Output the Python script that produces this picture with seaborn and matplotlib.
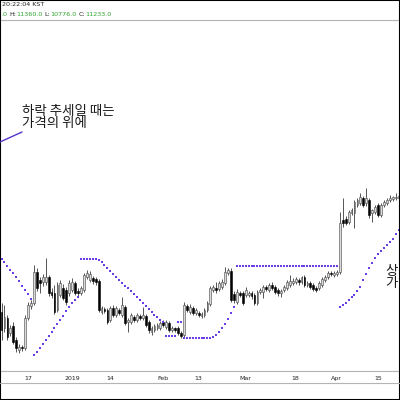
import numpy as np
import pandas as pd
import matplotlib
matplotlib.use("Agg")
import matplotlib.pyplot as plt
import matplotlib.dates as mdates
from matplotlib.lines import Line2D
from matplotlib.patches import Rectangle
import seaborn as sns

# daily candles, Dec 8 2018 .. Apr 22 2019 (price units, no axis shown)
start_date = "2018-12-08"
open_ = [88, 72, 82, 67, 74, 60, 50, 53, 52, 82, 94, 97, 128, 120, 118, 118, 123, 108, 107, 90,
         105, 112, 110, 107, 110, 117, 109, 107, 110, 123, 120, 122, 121, 119, 88, 91, 90, 80, 92, 85,
         90, 85, 93, 78, 78, 83, 80, 84, 82, 84, 78, 68, 70, 72, 72, 78, 73, 77, 70, 72,
         72, 67, 65, 94, 88, 92, 87, 87, 84, 85, 90, 96, 110, 112, 111, 113, 117, 127, 129, 106,
         98, 107, 107, 105, 105, 107, 105, 97, 108, 108, 113, 110, 115, 113, 110, 107, 110, 112, 115, 117,
         118, 120, 118, 123, 115, 117, 115, 112, 112, 115, 120, 123, 127, 125, 126, 128, 180, 181, 178, 187,
         187, 195, 197, 202, 197, 200, 187, 188, 195, 185, 195, 197, 200, 201, 202, 202]
high = [97, 95, 85, 75, 78, 63, 56, 55, 85, 98, 100, 135, 132, 123, 126, 142, 125, 112, 115, 118,
        120, 116, 113, 120, 122, 119, 112, 114, 127, 130, 129, 124, 123, 121, 94, 93, 92, 94, 95, 94,
        92, 103, 95, 82, 87, 85, 87, 86, 93, 86, 80, 74, 76, 77, 79, 80, 80, 79, 74, 73,
        74, 69, 98, 96, 96, 94, 92, 89, 88, 92, 99, 114, 115, 118, 119, 121, 133, 132, 132, 109,
        111, 109, 109, 113, 109, 109, 107, 110, 112, 115, 115, 117, 118, 115, 112, 111, 115, 120, 125, 122,
        123, 122, 124, 125, 119, 119, 117, 114, 119, 123, 125, 129, 129, 129, 130, 188, 202, 184, 190, 192,
        200, 202, 207, 204, 212, 202, 191, 195, 197, 197, 200, 202, 205, 204, 207, 206]
low = [60, 68, 60, 64, 56, 48, 47, 49, 50, 80, 91, 95, 109, 107, 114, 115, 104, 102, 86, 88,
       103, 100, 95, 104, 108, 105, 104, 105, 108, 121, 118, 116, 115, 88, 86, 87, 76, 78, 83, 83,
       85, 83, 75, 68, 76, 78, 78, 80, 80, 73, 67, 65, 68, 70, 70, 73, 71, 68, 68, 68,
       65, 62, 63, 88, 86, 85, 85, 83, 82, 83, 88, 94, 108, 107, 109, 111, 115, 125, 98, 97,
       96, 103, 95, 103, 103, 101, 95, 95, 106, 102, 109, 108, 110, 106, 104, 103, 108, 110, 113, 115,
       116, 115, 116, 113, 113, 111, 109, 108, 110, 113, 118, 121, 124, 123, 124, 126, 173, 175, 176, 185,
       172, 193, 195, 193, 194, 182, 178, 186, 183, 183, 193, 195, 198, 199, 200, 200]
close = [70, 83, 63, 72, 58, 52, 53, 52, 82, 95, 97, 128, 112, 117, 123, 123, 107, 105, 88, 115,
         117, 102, 98, 117, 118, 107, 107, 112, 125, 127, 126, 119, 118, 90, 92, 89, 78, 92, 85, 92,
         87, 95, 77, 80, 85, 80, 85, 82, 85, 75, 70, 72, 74, 75, 77, 75, 78, 70, 72, 70,
         67, 64, 95, 90, 93, 87, 90, 85, 86, 90, 97, 112, 113, 110, 117, 118, 128, 130, 100, 100,
         108, 105, 97, 110, 107, 104, 97, 108, 110, 113, 111, 115, 112, 108, 107, 109, 113, 118, 119, 119,
         121, 118, 123, 115, 117, 113, 111, 110, 117, 121, 123, 127, 126, 127, 128, 177, 177, 177, 188, 190,
         198, 200, 203, 195, 202, 185, 190, 193, 185, 195, 198, 200, 202, 203, 203, 204]

# stop-and-reverse dots, one per day
sar = [141, 138, 134, 130, 127, 123, 119, 114, 110, 106, 101,
       45, 48, 52, 56, 60, 64, 68, 72, 76, 80, 84, 89, 93, 97, 100, 103,
       141, 141, 141, 141, 141, 141,
       140, 138, 135, 132, 129, 126, 123, 120, 117, 114, 112, 109, 106, 103, 100, 97, 94, 91, 88, 85, 83, 80, 78,
       64, 64, 64, 64,
       78, 78,
       62, 62, 62, 62, 62, 62, 62, 62, 62, 62,
       63, 65, 68, 72, 76, 81, 87, 93,
       134, 134, 134, 134, 134, 134, 134, 134, 134, 134, 134, 134, 134, 134, 134, 134, 134, 134,
       134, 134, 134, 134, 134, 134, 134, 134, 134, 134, 134, 134, 134, 134, 134, 134, 134,
       93, 95, 97, 100, 103, 105, 109, 113, 120, 126, 132, 137, 142, 146, 149, 152, 155, 158, 161, 166, 170]

tick_dates = ["2018-12-17", "2019-01-01", "2019-01-14", "2019-02-01", "2019-02-13",
              "2019-03-01", "2019-03-18", "2019-04-01", "2019-04-15"]
tick_labels = ["17", "2019", "14", "Feb", "13", "Mar", "18", "Apr", "15"]

header_parts = [(".0", "g"), ("H:", "k"), ("11360.0", "g"), ("L:", "k"),
                ("10776.0", "g"), ("C:", "k"), ("11233.0", "g")]

SAR_COLOR = "#6a3de8"
GRID_GRAY = "#b4b4b4"
GREEN = "#2fa52f"
DARK = "#222222"

sns.set_theme(style="white")
plt.rcParams["font.family"] = ["DejaVu Sans"]

df = pd.DataFrame({"date": pd.date_range(start_date, periods=len(close)),
                   "open": open_, "high": high, "low": low, "close": close, "sar": sar})
df["x"] = mdates.date2num(df["date"])
up = df["close"] >= df["open"]

fig = plt.figure(figsize=(4, 4), dpi=100)
ax = fig.add_axes([0, 29 / 400, 1, 351 / 400])

# wicks + bodies
ax.vlines(df["x"], df["low"], df["high"], color="#3a3a3a", linewidth=0.6, zorder=2)
body = (df["close"] - df["open"]).abs().clip(lower=0.8)
bottom = df[["open", "close"]].min(axis=1)
ax.bar(df.loc[up, "x"], body[up], bottom=bottom[up], width=0.62,
       color="#dadada", edgecolor="#444444", linewidth=0.4, zorder=3)
ax.bar(df.loc[~up, "x"], body[~up], bottom=bottom[~up], width=0.62,
       color="black", edgecolor="black", linewidth=0.4, zorder=3)

# SAR dots: markers only, no connecting line
sns.lineplot(data=df, x="x", y="sar", ax=ax, linestyle="", marker="s",
             markersize=1.7, markeredgewidth=0, color=SAR_COLOR, zorder=4)

ax.set_xlim(df["x"].iloc[0] - 0.52, df["x"].iloc[-1] + 0.48)
ax.set_ylim(29, 380)
ax.set_xlabel("")
ax.set_ylabel("")
ax.set_yticks([])
ax.set_xticks(mdates.date2num(pd.to_datetime(tick_dates)))
ax.set_xticklabels(tick_labels)
ax.tick_params(axis="x", direction="out", length=2, width=0.6, color=GRID_GRAY,
               labelsize=4.5, pad=1.5, labelcolor=DARK)
for side in ["left", "right"]:
    ax.spines[side].set_visible(False)
for side in ["top", "bottom"]:
    ax.spines[side].set_color(GRID_GRAY)
    ax.spines[side].set_linewidth(0.8)

# line under the date labels
fig.add_artist(Line2D([0, 1], [1 - 383 / 400] * 2, transform=fig.transFigure,
                      color=GRID_GRAY, linewidth=0.8))

# header: time, then O/H/L/C pieces chained one after another
fig.text(2 / 400, 1 - 5 / 400, "20:22:04 KST", fontsize=4.6, color=DARK, va="center")
last = fig.text(1.5 / 400, 1 - 14 / 400, header_parts[0][0], fontsize=4.6,
                color=GREEN, va="center")
for s, c in header_parts[1:]:
    gap = 1.2 if c == "k" else 0.2
    last = ax.annotate(s, xy=(1, 0.5), xycoords=last, xytext=(gap, 0),
                       textcoords="offset points", fontsize=4.6,
                       color=GREEN if c == "g" else DARK,
                       va="center", ha="left", annotation_clip=False)

# annotations
kfont = ["Noto Sans CJK KR", "DejaVu Sans"]
fig.add_artist(Line2D([0, 22 / 400], [1 - 142 / 400, 1 - 132 / 400], transform=fig.transFigure,
                      color="#5533cc", linewidth=1.0))
fig.text(22 / 400, 1 - 104 / 400, "하락 추세일 때는\n가격의 위에", family=kfont, style="italic",
         fontsize=9.7, color="#1a1a1a", va="top", ha="left", linespacing=0.86)
fig.text(385 / 400, 1 - 264 / 400, "상\n가", family=kfont, style="italic",
         fontsize=9.7, color="#1a1a1a", va="top", ha="left", linespacing=0.86)

fig.add_artist(Rectangle((0, 0), 1, 1, transform=fig.transFigure, fill=False,
                         edgecolor="black", linewidth=1.5))

fig.savefig("out.png", dpi=100)
